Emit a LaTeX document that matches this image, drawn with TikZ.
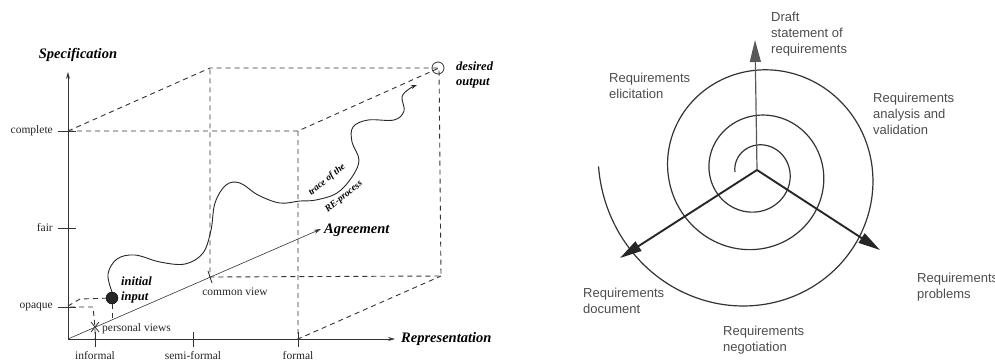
\documentclass[tikz,border=0pt]{standalone}
\usepackage{fontspec}
\setmainfont{Liberation Serif}
\newfontfamily\phasefont{Liberation Sans}
\usetikzlibrary{arrows.meta}
\tikzset{
  cube/.style={dash pattern=on 5pt off 4pt, line width=0.9pt, draw=black!80},
  axis/.style={line width=0.8pt, draw=black!80, -{Stealth[length=7pt,width=4pt]}},
  tick/.style={line width=0.8pt, draw=black!80},
  axislabel/.style={font=\fontsize{14.5}{16}\selectfont\bfseries\itshape, inner sep=1pt},
  pointlabel/.style={font=\fontsize{12.5}{15}\selectfont\bfseries\itshape, align=left, inner sep=0pt},
  tracelabel/.style={font=\fontsize{9.5}{11}\selectfont\bfseries\itshape, inner sep=0pt},
  ticklabel/.style={font=\fontsize{11.5}{13}\selectfont, text=black!85, inner sep=1pt},
  phase/.style={font=\phasefont\fontsize{13}{16}\selectfont, text=black!70, align=left, inner sep=0pt, anchor=north west},
  spiral/.style={line width=1.2pt, draw=black!80},
  thinarrow/.style={line width=1.2pt, draw=black!65, -{Triangle[length=22pt,width=11pt]}},
  fatarrow/.style={line width=1.9pt, draw=black!85, -{Triangle[length=22pt,width=11pt]}}
}
\begin{document}
\begin{tikzpicture}[x=1pt, y={(0pt,-1pt)}]
  \clip (0,0) rectangle (995,362);
  \coordinate (O) at (68,339);
  \coordinate (S) at (68,72);
  \coordinate (R) at (395,339);
  \coordinate (A) at (321,229);
  \coordinate (fl) at (68,131);
  \coordinate (fr) at (298,131);
  \coordinate (fb) at (298,339);
  \coordinate (bl) at (210,68);
  \coordinate (br) at (439,68);
  \coordinate (bb) at (441,276);
  \coordinate (bo) at (210,277);
  \coordinate (pv) at (95,327);
  \draw[cube] (fl) -- (bl) -- (br) -- (bb) -- (bo) -- (bl);
  \draw[cube] (fl) -- (fr) -- (br);
  \draw[cube] (fr) -- (fb) -- (bb);
  \draw[axis] (O) -- (S);
  \draw[axis] (O) -- (R);
  \draw[axis, line width=0.6pt] (O) -- (A);
  \node[axislabel] (spec) at (78,55) {Specification};
  \node[axislabel, anchor=west] (rep) at (400,339) {Representation};
  \node[axislabel, anchor=west] (agr) at (323,230) {Agreement};
  \foreach \y/\name/\txt in {131/complete/complete, 228/fair/fair, 307/opaque/opaque} {
    \draw[tick] (58,\y) -- (76,\y);
    \node[ticklabel, anchor=east] (\name) at (54,\y) {\txt};
  }
  \foreach \x/\name/\txt in {95/informal/informal, 193/semiformal/semi-formal, 298/formal/formal} {
    \draw[tick] (\x,332) -- (\x,347);
    \node[ticklabel] (\name) at (\x,356) {\txt};
  }
  \node[circle, fill=black!85, draw=black, minimum size=12pt, inner sep=0pt] (init) at (112,298) {};
  \node[circle, draw=black!80, line width=0.8pt, minimum size=12pt, inner sep=0pt] (goal) at (438,68) {};
  \node[pointlabel, anchor=west] (initlabel) at (121,290) {initial\\input};
  \node[pointlabel, anchor=west] (goallabel) at (456,75) {desired\\output};
  \draw[cube] (68,306) -- (80,299) -- (init);
  \draw[cube] (70,307) -- (93,307) -- (pv) -- (95,339);
  \draw[cube] (init) -- (112,320);
  \draw[tick] (91,322) -- (99,332) (91,332) -- (99,322);
  \draw[tick] (208,271) -- (212,283);
  \node[ticklabel, anchor=west] (personal) at (101,329) {personal views};
  \node[ticklabel] (common) at (235,292) {common view};
  \draw[line width=0.9pt, black!85, -{Stealth[length=6pt,width=4pt]}] plot[smooth, tension=0.6] coordinates {
    (init.north) (108,274) (117,259) (135,255) (160,262) (185,264) (203,253) (211,230) (215,203)
    (226,185) (240,183) (258,195) (280,203) (300,201) (316,200) (337,193) (352,177) (359,160)
    (352,142) (353,127) (368,120) (394,120) (404,111) (402,97) (409,89) (417,85)};
  \node[tracelabel, rotate=39] (trace1) at (327,180) {trace of the};
  \node[tracelabel, rotate=39] (trace2) at (344,197) {RE-process};
  \coordinate (C) at (757,170);
  \coordinate (tipup) at (755,40);
  \coordinate (tipleft) at (620,258);
  \coordinate (tipright) at (880,250);
  \draw[spiral] plot[domain=0:1082, samples=300, smooth]
    ({757+(22+0.05*\x+0.6*(\x/100)^2+12*(max(0,(\x-900)/180))^2)*cos(180-\x)},
     {172-(22+0.05*\x+0.6*(\x/100)^2+12*(max(0,(\x-900)/180))^2)*sin(180-\x)});
  \draw[thinarrow] (C) -- (tipup);
  \draw[fatarrow] (C) -- (tipleft);
  \draw[fatarrow] (C) -- (tipright);
  \node[phase] (draft) at (771,12) {Draft\\statement of\\requirements};
  \node[phase] (elicit) at (609,73) {Requirements\\elicitation};
  \node[phase] (analysis) at (873,93) {Requirements\\analysis and\\validation};
  \node[phase] (document) at (583,288) {Requirements\\document};
  \node[phase] (negotiate) at (723,326) {Requirements\\negotiation};
  \node[phase] (problems) at (917,273) {Requirements\\problems};
\end{tikzpicture}
\end{document}
